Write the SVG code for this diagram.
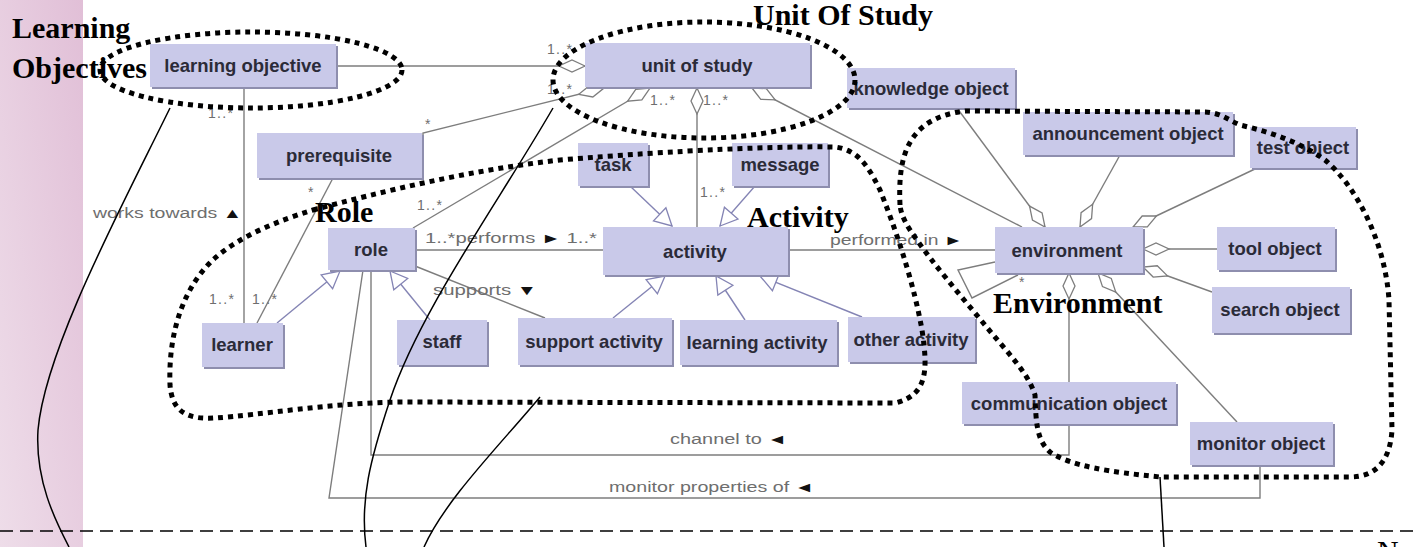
<svg xmlns="http://www.w3.org/2000/svg" width="1414" height="547" viewBox="0 0 1414 547">
<defs>
<style>
.n{fill:#c9c9e9}
.ns{fill:#8e8eae}
.nt{font-family:"Liberation Sans",Arial,sans-serif;font-size:18.5px;font-weight:bold;fill:#2b2b38;text-anchor:middle}
.a{fill:none;stroke:#7d7d7d;stroke-width:1.4}
.g{fill:none;stroke:#8484b4;stroke-width:1.4}
.lb{font-family:"Liberation Sans",Arial,sans-serif;font-size:14px;fill:#6e6e6e}
.ar{fill:#111}
.dot{fill:none;stroke:#000;stroke-width:5;stroke-dasharray:5 5}
.cl{fill:none;stroke:#000;stroke-width:1.5}
.rt{font-family:"Liberation Serif","Times New Roman",serif;font-size:30px;font-weight:bold;fill:#000}
</style>
<linearGradient id="pk" x1="1" y1="0" x2="0" y2="1">
<stop offset="0" stop-color="#e1bfd7"/>
<stop offset="1" stop-color="#eedde9"/>
</linearGradient>
<marker id="dm" markerUnits="userSpaceOnUse" markerWidth="30" markerHeight="16" viewBox="-28 -8 30 16" refX="0" refY="0" orient="auto">
<path d="M0,0 L-13,-6 L-26,0 L-13,6 Z" fill="#fff" stroke="#7d7d7d" stroke-width="1.3"/>
</marker>
<marker id="tm" markerUnits="userSpaceOnUse" markerWidth="22" markerHeight="22" viewBox="-20 -11 22 22" refX="0" refY="0" orient="auto">
<path d="M0,0 L-17,-9 L-17,9 Z" fill="#fff" stroke="#8484b4" stroke-width="1.3"/>
</marker>
</defs>
<rect x="0" y="0" width="1414" height="547" fill="#fff"/>
<rect x="0" y="0" width="83" height="547" fill="url(#pk)"/>

<g id="connectors">
<path class="a" d="M336,66 L585,66" stroke="#505050" stroke-width="2" marker-end="url(#dm)"/>
<path class="a" d="M244,87 L244,323"/>
<path class="a" d="M423,170 L423,133 L604,88" marker-end="url(#dm)"/>
<path class="a" d="M413,228 L650,88" marker-end="url(#dm)"/>
<path class="a" d="M697,227 L697,88" marker-end="url(#dm)"/>
<path class="a" d="M1022,227 L752,88" marker-end="url(#dm)"/>
<path class="a" d="M957,108 L1045,227" marker-end="url(#dm)"/>
<path class="a" d="M1120,155 L1080,227" marker-end="url(#dm)"/>
<path class="a" d="M1257,168 L1133,227" marker-end="url(#dm)"/>
<path class="a" d="M1217,249 L1143,249" marker-end="url(#dm)"/>
<path class="a" d="M1212,292 L1143,267" marker-end="url(#dm)"/>
<path class="a" d="M1069,382 L1069,273" marker-end="url(#dm)"/>
<path class="a" d="M1237,422 L1098,273" marker-end="url(#dm)"/>
<path class="a" d="M995,262 L958,270 L972,298 L1018,275"/>
<path class="a" d="M415,250 L603,250" stroke-width="2"/>
<path class="a" d="M788,250 L995,250" stroke-width="2"/>
<path class="a" d="M415,266 L545,318"/>
<path class="a" d="M333,178 L257,323"/>
<path class="a" d="M371,270 L371,455 L1069,455 L1069,424"/>
<path class="a" d="M363,270 L329,498 L1260,498 L1260,465"/>
<path class="g" d="M277,323 L340,271" marker-end="url(#tm)"/>
<path class="g" d="M430,320 L390,271" marker-end="url(#tm)"/>
<path class="g" d="M613,318 L665,276" marker-end="url(#tm)"/>
<path class="g" d="M745,320 L716,276" marker-end="url(#tm)"/>
<path class="g" d="M862,317 L760,276" marker-end="url(#tm)"/>
<path class="g" d="M630,186 L672,226" marker-end="url(#tm)"/>
<path class="g" d="M755,186 L720,226" marker-end="url(#tm)"/>
<text class="lb" x="547" y="54" textLength="25">1..*</text>
<text class="lb" x="547" y="94" textLength="25">1..*</text>
<text class="lb" x="208" y="118" textLength="25">1..*</text>
<text class="lb" x="425" y="129">*</text>
<text class="lb" x="308" y="197">*</text>
<text class="lb" x="417" y="210" textLength="25">1..*</text>
<text class="lb" x="650" y="105" textLength="25">1..*</text>
<text class="lb" x="703" y="105" textLength="25">1..*</text>
<text class="lb" x="700" y="197" textLength="25">1..*</text>
<text class="lb" x="209" y="304" textLength="25">1..*</text>
<text class="lb" x="252" y="304" textLength="25">1..*</text>
<text class="lb" x="1019" y="287" font-size="12">*</text>
<text class="lb" x="93" y="218" textLength="149" lengthAdjust="spacingAndGlyphs">works towards <tspan class="ar">▲</tspan></text>
<text class="lb" x="425" y="243" textLength="172" lengthAdjust="spacingAndGlyphs">1..*performs <tspan class="ar">►</tspan> 1..*</text>
<text class="lb" x="830" y="245" textLength="133" lengthAdjust="spacingAndGlyphs">performed in <tspan class="ar">►</tspan></text>
<text class="lb" x="433" y="295" textLength="104" lengthAdjust="spacingAndGlyphs">supports <tspan class="ar">▼</tspan></text>
<text class="lb" x="670" y="444" textLength="117" lengthAdjust="spacingAndGlyphs">channel to <tspan class="ar">◄</tspan></text>
<text class="lb" x="609" y="492" textLength="205" lengthAdjust="spacingAndGlyphs">monitor properties of <tspan class="ar">◄</tspan></text>
</g>

<g id="n-learning-objective"><rect class="ns" x="152" y="46" width="186" height="43"/><rect class="n" x="150" y="44" width="186" height="43"/><text class="nt" x="243" y="72">learning objective</text></g>
<g id="n-unit-of-study"><rect class="ns" x="587" y="45" width="225" height="44"/><rect class="n" x="585" y="43" width="225" height="44"/><text class="nt" x="697" y="72">unit of study</text></g>
<g id="n-knowledge-object"><rect class="ns" x="849" y="70" width="168" height="40"/><rect class="n" x="847" y="68" width="168" height="40"/><text class="nt" x="931" y="95">knowledge object</text></g>
<g id="n-announcement-object"><rect class="ns" x="1025" y="114" width="210" height="43"/><rect class="n" x="1023" y="112" width="210" height="43"/><text class="nt" x="1128" y="140">announcement object</text></g>
<g id="n-test-object"><rect class="ns" x="1252" y="129" width="106" height="41"/><rect class="n" x="1250" y="127" width="106" height="41"/><text class="nt" x="1303" y="154">test object</text></g>
<g id="n-prerequisite"><rect class="ns" x="259" y="135" width="165" height="45"/><rect class="n" x="257" y="133" width="165" height="45"/><text class="nt" x="339" y="162">prerequisite</text></g>
<g id="n-task"><rect class="ns" x="580" y="145" width="70" height="43"/><rect class="n" x="578" y="143" width="70" height="43"/><text class="nt" x="613" y="171">task</text></g>
<g id="n-message"><rect class="ns" x="734" y="145" width="96" height="43"/><rect class="n" x="732" y="143" width="96" height="43"/><text class="nt" x="780" y="171">message</text></g>
<g id="n-role"><rect class="ns" x="330" y="230" width="87" height="42"/><rect class="n" x="328" y="228" width="87" height="42"/><text class="nt" x="371" y="256">role</text></g>
<g id="n-activity"><rect class="ns" x="605" y="229" width="185" height="48"/><rect class="n" x="603" y="227" width="185" height="48"/><text class="nt" x="695" y="258">activity</text></g>
<g id="n-environment"><rect class="ns" x="997" y="229" width="148" height="46"/><rect class="n" x="995" y="227" width="148" height="46"/><text class="nt" x="1067" y="257">environment</text></g>
<g id="n-tool-object"><rect class="ns" x="1219" y="229" width="118" height="43"/><rect class="n" x="1217" y="227" width="118" height="43"/><text class="nt" x="1275" y="255">tool object</text></g>
<g id="n-search-object"><rect class="ns" x="1214" y="289" width="138" height="46"/><rect class="n" x="1212" y="287" width="138" height="46"/><text class="nt" x="1280" y="316">search object</text></g>
<g id="n-learner"><rect class="ns" x="204" y="325" width="81" height="44"/><rect class="n" x="202" y="323" width="81" height="44"/><text class="nt" x="242" y="351">learner</text></g>
<g id="n-staff"><rect class="ns" x="399" y="322" width="90" height="45"/><rect class="n" x="397" y="320" width="90" height="45"/><text class="nt" x="442" y="348">staff</text></g>
<g id="n-support-activity"><rect class="ns" x="520" y="320" width="154" height="47"/><rect class="n" x="518" y="318" width="154" height="47"/><text class="nt" x="594" y="348">support activity</text></g>
<g id="n-learning-activity"><rect class="ns" x="682" y="322" width="157" height="45"/><rect class="n" x="680" y="320" width="157" height="45"/><text class="nt" x="757" y="349">learning activity</text></g>
<g id="n-other-activity"><rect class="ns" x="850" y="319" width="127" height="45"/><rect class="n" x="848" y="317" width="127" height="45"/><text class="nt" x="911" y="346">other activity</text></g>
<g id="n-communication-object"><rect class="ns" x="964" y="384" width="214" height="42"/><rect class="n" x="962" y="382" width="214" height="42"/><text class="nt" x="1069" y="410">communication object</text></g>
<g id="n-monitor-object"><rect class="ns" x="1192" y="424" width="143" height="43"/><rect class="n" x="1190" y="422" width="143" height="43"/><text class="nt" x="1261" y="450">monitor object</text></g>

<g id="regions">
<ellipse class="dot" cx="251" cy="70" rx="151" ry="38"/>
<ellipse class="dot" cx="704" cy="80" rx="151" ry="58"/>
<path class="dot" d="M313,210 C380,192 470,170 560,160 C680,150 780,146 835,147 C860,150 870,170 880,190 C900,240 915,290 922,330 C928,370 928,395 895,403 L400,402 C330,403 260,415 215,418 C185,420 172,410 170,385 C168,330 185,285 215,258 C240,236 280,220 313,210 Z"/>
<path class="dot" d="M900,205 C898,160 905,118 965,111 L1205,112 C1222,113 1228,120 1240,125 C1270,132 1300,142 1325,160 C1355,185 1385,240 1389,300 L1392,430 C1390,462 1375,477 1350,477 L1160,477 C1110,472 1070,466 1050,452 C1036,440 1036,420 1035,395 C1028,372 1005,350 985,325 C960,295 932,262 917,240 C906,225 901,215 900,205 Z"/>
<path class="cl" d="M170,108 C120,210 45,350 38,430 C35,480 55,520 69,547"/>
<path class="cl" d="M553,108 C500,200 420,310 390,400 C370,460 360,500 366,547"/>
<path class="cl" d="M540,397 C500,445 445,500 424,547"/>
<path class="cl" d="M1160,477 L1164,547"/>
<line x1="0" y1="531" x2="1414" y2="531" stroke="#000" stroke-width="1.5" stroke-dasharray="13 7"/>
<text class="rt" x="12" y="38">Learning</text>
<text class="rt" x="12" y="78">Objectives</text>
<text class="rt" x="753" y="25">Unit Of Study</text>
<text class="rt" x="315" y="222">Role</text>
<text class="rt" x="747" y="227">Activity</text>
<text class="rt" x="993" y="313">Environment</text>
<text x="1377" y="561" font-family="Liberation Serif, Times New Roman, serif" font-size="30" fill="#000">No</text>
</g>
</svg>
